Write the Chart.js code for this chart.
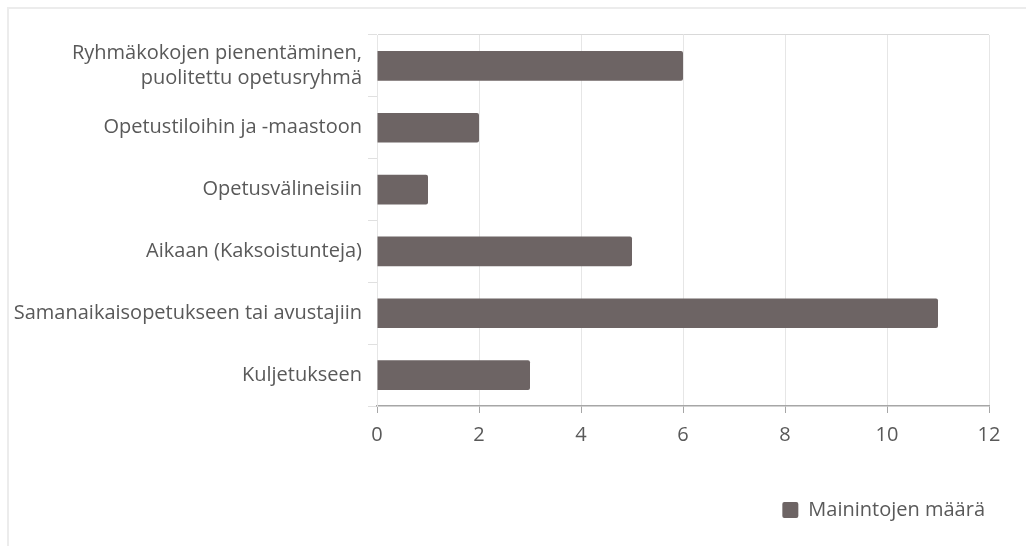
<!DOCTYPE html>
<html><head><meta charset="utf-8">
<script src="https://cdn.jsdelivr.net/npm/chart.js@4/dist/chart.umd.min.js"></script>
<style>
html,body{margin:0;padding:0;background:#fff;}
#frame{position:absolute;left:7px;top:7px;width:1030px;height:560px;border-left:2px solid #ececec;border-top:2px solid #ececec;}
#wrap{position:absolute;left:0;top:0;width:1026px;height:546px;}
</style></head>
<body>
<div id="frame"></div>
<div id="wrap"><canvas id="c"></canvas></div>
<script>
const categories = [["Ryhmäkokojen pienentäminen,","puolitettu opetusryhmä"],"Opetustiloihin ja -maastoon","Opetusvälineisiin","Aikaan (Kaksoistunteja)","Samanaikaisopetukseen tai avustajiin","Kuljetukseen"];
const values = [6, 2, 1, 5, 11, 3];
const seriesName = "Mainintojen määrä";
const xTicks = [0, 2, 4, 6, 8, 10, 12];

const FONT = "'Open Sans', sans-serif";
const TXT = '#595959';
Chart.defaults.font.family = FONT;
Chart.defaults.color = TXT;

new Chart(document.getElementById('c'), {
  type: 'bar',
  data: {
    labels: categories,
    datasets: [{
      label: seriesName,
      data: values,
      backgroundColor: '#6d6464',
      borderRadius: 2,
      borderSkipped: 'start',
      barPercentage: 0.48,
      categoryPercentage: 1.0
    }]
  },
  options: {
    indexAxis: 'y',
    responsive: true,
    maintainAspectRatio: false,
    animation: false,
    layout: { padding: { top: 35, right: 37, left: 0, bottom: 16 } },
    plugins: {
      legend: {
        position: 'bottom',
        align: 'end',
        labels: {
          font: { size: 20, family: FONT },
          color: TXT,
          boxWidth: 16, boxHeight: 16,
          useBorderRadius: true, borderRadius: 2,
          padding: 4
        }
      },
      tooltip: { enabled: false }
    },
    scales: {
      x: {
        min: 0, max: 12,
        afterBuildTicks: (s) => { s.ticks = xTicks.map(v => ({ value: v })); },
        afterFit: (s) => { s.height = 90; },
        border: { display: true, color: '#a6a6a6', width: 1.5 },
        grid: { color: '#e6e6e6', tickColor: '#a6a6a6', tickLength: 7, lineWidth: 1 },
        ticks: { font: { size: 20, family: FONT }, color: TXT, padding: 10 }
      },
      y: {
        afterFit: (s) => { s.width = 377; },
        border: { display: true, color: '#e6e6e6' },
        grid: {
          offset: true,
          color: (ctx) => ctx.index === 0 ? '#d9d9d9' : 'rgba(0,0,0,0)',
          tickColor: '#e0e0e0',
          tickLength: 9
        },
        ticks: { font: { size: 20, family: FONT, lineHeight: 1.25 }, color: TXT, padding: 6 }
      }
    }
  }
});
</script>
</body></html>
